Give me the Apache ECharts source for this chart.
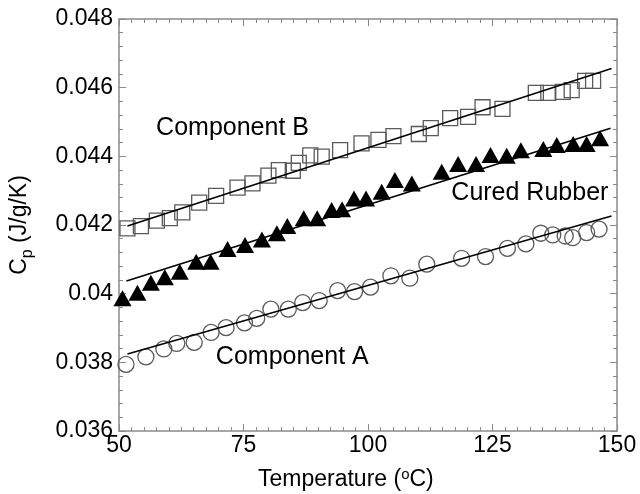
<!DOCTYPE html>
<html><head><meta charset="utf-8">
<script src="https://cdn.jsdelivr.net/npm/echarts@6/dist/echarts.min.js"></script>
<style>html,body{margin:0;padding:0;background:#fff}#c{width:640px;height:494px}</style>
</head><body><div id="c"></div>
<script>
// ---- data ----
const xTickValues = [50, 75, 100, 125, 150];
const yTickValues = [0.036, 0.038, 0.040, 0.042, 0.044, 0.046, 0.048];

const compBTemp = [51.7,54.4,57.6,60.2,62.7,66.1,69.5,73.8,76.8,80.0,82.1,84.9,86.1,88.4,90.7,94.4,98.7,102.1,105.1,110.2,112.6,116.5,120.1,123.0,127.0,133.7,136.2,139.1,140.9,143.6,145.2];
const compBCp = [0.04190,0.04197,0.04213,0.04220,0.04237,0.04265,0.04285,0.04309,0.04321,0.04344,0.04360,0.04358,0.04381,0.04403,0.04399,0.04418,0.04438,0.04448,0.04459,0.04465,0.04482,0.04511,0.04515,0.04543,0.04538,0.04585,0.04585,0.04588,0.04593,0.04620,0.04620];

const rubberTemp = [50.7,53.7,56.4,59.2,62.2,65.5,68.4,71.8,75.3,78.7,81.7,83.8,87.1,89.8,92.7,94.8,97.2,99.6,102.75,105.4,108.8,114.8,118.1,121.7,124.6,127.85,130.7,135.2,137.9,141.2,143.9,146.6];
const rubberCp = [0.03987,0.04003,0.04032,0.04048,0.04064,0.04093,0.04093,0.04130,0.04142,0.04158,0.04176,0.04197,0.04220,0.04220,0.04244,0.04246,0.04277,0.04277,0.04297,0.04331,0.04321,0.04355,0.04378,0.04378,0.04404,0.04402,0.04418,0.04421,0.04433,0.04436,0.04436,0.04453];

const compATemp = [51.4,55.4,59.0,61.6,65.1,68.5,71.5,75.2,77.65,80.5,84.0,86.9,90.2,93.9,97.3,100.5,104.6,108.4,111.8,118.8,123.6,128.0,131.7,134.7,137.1,139.6,141.1,143.9,146.4];
const compACp = [0.03794,0.03816,0.03839,0.03855,0.03858,0.03887,0.03901,0.03915,0.03928,0.03955,0.03955,0.03974,0.03980,0.04009,0.04006,0.04019,0.04052,0.04045,0.04086,0.04103,0.04108,0.04132,0.04145,0.04176,0.04171,0.04168,0.04163,0.04178,0.04188];

const fitBTemp = [51.7, 148.9];
const fitBCp = [0.04197, 0.04656];
const fitRubberTemp = [51.5, 148.7];
const fitRubberCp = [0.04037, 0.04482];
const fitATemp = [51.7, 148.9];
const fitACp = [0.03824, 0.04226];

const labelNames = ['Component B', 'Cured Rubber', 'Component A'];
const labelTemp = [72.8, 132.5, 84.8];
const labelCp = [0.044825, 0.04293, 0.038164];

// ---- build ----
const zip = (a, b) => a.map((v, i) => [v, b[i]]);
const FONT = 'Liberation Sans, Arial, Helvetica, sans-serif';
const AX = '#8a8a8a';

function axisCommon(showLabels, isX) {
  return {
    type: 'value',
    min: isX ? xTickValues[0] : yTickValues[0],
    max: isX ? xTickValues[xTickValues.length - 1] : yTickValues[yTickValues.length - 1],
    interval: isX ? 25 : 0.002,
    axisLine: { show: true, onZero: false, lineStyle: { color: AX, width: 1.5 } },
    axisTick: { show: true, inside: true, length: 7, lineStyle: { color: AX, width: 1 } },
    minorTick: { show: true, splitNumber: isX ? 10 : 5, length: 4, lineStyle: { color: AX, width: 1 } },
    splitLine: { show: false },
    minorSplitLine: { show: false },
    axisLabel: {
      show: showLabels, color: '#000', fontSize: 23, fontFamily: FONT, margin: isX ? 3 : 6,
      formatter: v => isX ? String(v) : String(parseFloat(v.toFixed(3)))
    }
  };
}

const xa1 = axisCommon(true, true); xa1.position = 'bottom';
const xa2 = axisCommon(false, true); xa2.position = 'top';
const ya1 = axisCommon(true, false); ya1.position = 'left';
const ya2 = axisCommon(false, false); ya2.position = 'right';

const hollow = { color: 'rgba(0,0,0,0)', borderColor: '#5a5a5a', borderWidth: 1.3, opacity: 1 };
const fitLine = (t, c) => ({
  type: 'line', data: zip(t, c), showSymbol: false, symbol: 'none',
  lineStyle: { color: '#000', width: 1.6 }, z: 3, silent: true
});

const chart = echarts.init(document.getElementById('c'), null, { renderer: 'canvas' });
chart.setOption({
  animation: false,
  backgroundColor: '#fff',
  grid: { left: 119, right: 23, top: 19, bottom: 63 },
  xAxis: [xa1, xa2],
  yAxis: [ya1, ya2],
  series: [
    { type: 'scatter', data: zip(compBTemp, compBCp), symbol: 'rect', symbolSize: 15, itemStyle: hollow, z: 2 },
    { type: 'scatter', data: zip(rubberTemp, rubberCp), symbol: 'triangle', symbolSize: [18, 16], itemStyle: { color: '#000', opacity: 1 }, z: 2 },
    { type: 'scatter', data: zip(compATemp, compACp), symbol: 'circle', symbolSize: 16, itemStyle: hollow, z: 2 },
    fitLine(fitBTemp, fitBCp),
    fitLine(fitRubberTemp, fitRubberCp),
    fitLine(fitATemp, fitACp),
    {
      type: 'scatter', symbolSize: 0, silent: true, z: 4,
      itemStyle: { opacity: 1 },
      data: labelNames.map((n, i) => [labelTemp[i], labelCp[i], n]),
      label: { show: true, position: 'inside', formatter: p => p.data[2], color: '#000', fontSize: 25, fontFamily: FONT }
    }
  ],
  graphic: [
    {
      type: 'text', left: 258, top: 467,
      style: {
        text: '{a|Temperature (}{s|o}{a|C)}', fontFamily: FONT,
        rich: {
          a: { fontSize: 23, fontFamily: FONT, fill: '#000', verticalAlign: 'bottom' },
          s: { fontSize: 15, fontFamily: FONT, fill: '#000', padding: [0, 0, 9, 0], verticalAlign: 'bottom' }
        }
      }
    },
    {
      type: 'text', x: 22, y: 225, rotation: Math.PI / 2,
      style: {
        text: '{a|C}{s|p}{a| (J/g/K)}', fontFamily: FONT, align: 'center', verticalAlign: 'middle',
        rich: {
          a: { fontSize: 23, fontFamily: FONT, fill: '#000', verticalAlign: 'top' },
          s: { fontSize: 16, fontFamily: FONT, fill: '#000', padding: [12, 0, 0, 0], verticalAlign: 'top' }
        }
      }
    }
  ]
});
</script>
</body></html>
